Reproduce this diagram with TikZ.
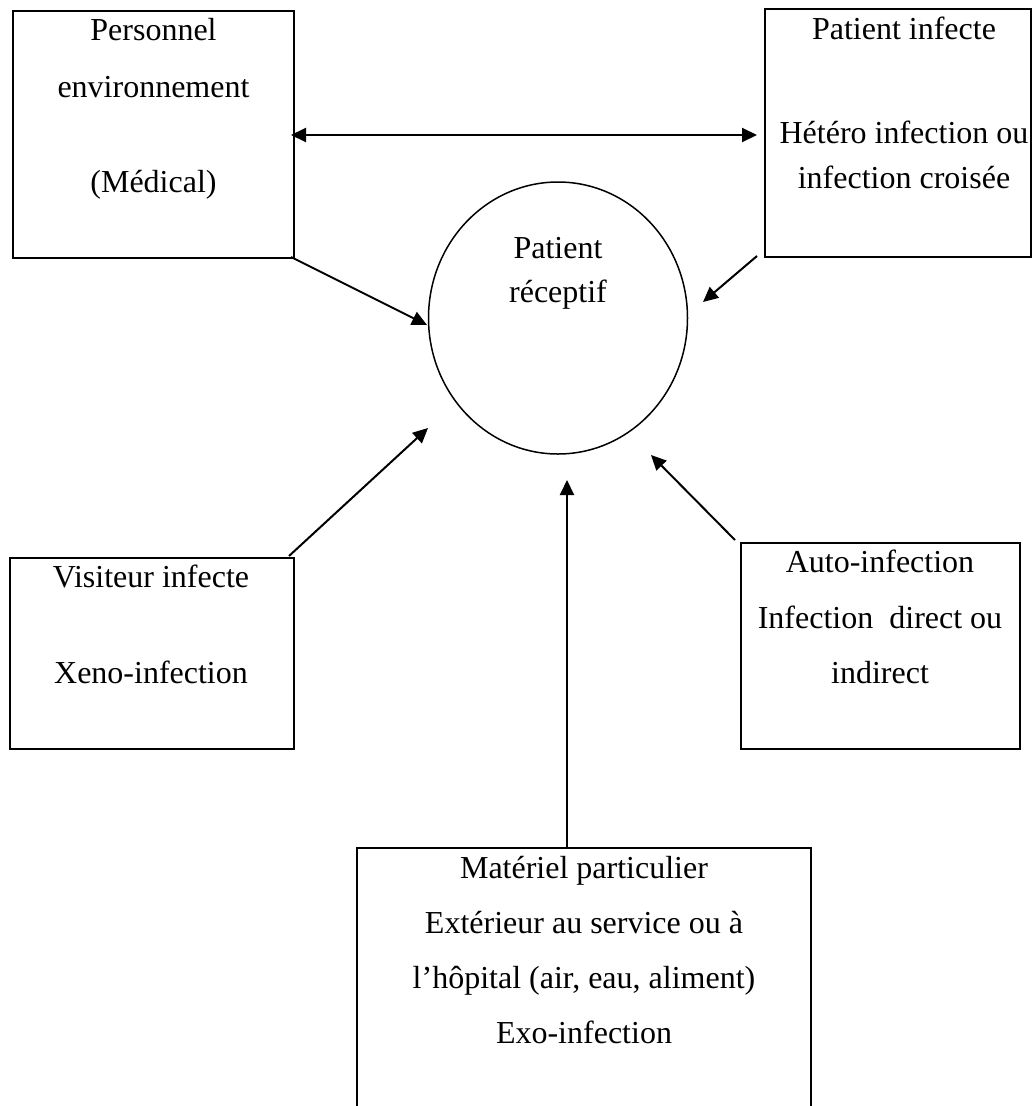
\documentclass[tikz,border=0pt]{standalone}
\usepackage{fontspec}
\setmainfont{Liberation Serif}
\usetikzlibrary{shapes.geometric,arrows.meta}
\begin{document}
\begin{tikzpicture}[x=1pt,y=-1pt,
  box/.style={draw,line width=2pt,rectangle,inner sep=0pt,outer sep=0pt},
  txt/.style={anchor=base,inner sep=0pt,font=\fontsize{32pt}{38pt}\selectfont},
  arr/.style={line width=2pt,-{Triangle[length=15pt,width=14pt]}},
  darr/.style={line width=2pt,{Triangle[length=15pt,width=14pt]}-{Triangle[length=15pt,width=14pt]}}]
\useasboundingbox (0,0) rectangle (1032,1106);
\fill[white] (0,0) rectangle (1032,1106);
\clip (0,0) rectangle (1032,1106);
% boxes
\node[box,minimum width=281pt,minimum height=247pt] (b1) at (153.5,134.5) {};
\node[box,minimum width=266pt,minimum height=248pt] (b2) at (898,133) {};
\node[box,minimum width=284pt,minimum height=191pt] (b3) at (152,653.5) {};
\node[box,minimum width=279pt,minimum height=206pt] (b4) at (880.5,646) {};
\node[box,minimum width=454pt,minimum height=282pt] (b5) at (584,989) {};
\node[draw,ellipse,line width=1.5pt,minimum width=259pt,minimum height=272pt,inner sep=0pt] (ell) at (558,318) {};
% texts
\node[txt] (t1a) at (153.5,40) {Personnel};
\node[txt] (t1b) at (153.5,97) {environnement};
\node[txt] (t1c) at (153.5,192) {(Médical)};
\node[txt] (t2a) at (904,39) {Patient infecte};
\node[txt] (t2b) at (904,143) {Hétéro infection ou};
\node[txt] (t2c) at (904,188) {infection croisée};
\node[txt] (tea) at (558,258) {Patient};
\node[txt] (teb) at (558,302) {réceptif};
\node[txt] (t3a) at (151,587) {Visiteur infecte};
\node[txt] (t3b) at (151,683) {Xeno-infection};
\node[txt] (t4a) at (880,572) {Auto-infection};
\node[txt] (t4b) at (880,628) {Infection\ \ direct ou};
\node[txt] (t4c) at (880,683) {indirect};
\node[txt] (t5a) at (584,878) {Matériel particulier};
\node[txt] (t5b) at (584,933) {Extérieur au service ou à};
\node[txt] (t5c) at (584,988) {l’hôpital (air, eau, aliment)};
\node[txt] (t5d) at (584,1043) {Exo-infection};
% connector end points
\coordinate (d1) at (291,135);
\coordinate (d2) at (757,135);
\coordinate (a1s) at (291,257);
\coordinate (a1e) at (427,325);
\coordinate (a2s) at (757,256);
\coordinate (a2e) at (703,302);
\coordinate (a3s) at (289,556);
\coordinate (a3e) at (428,428);
\coordinate (a4s) at (735,540);
\coordinate (a4e) at (651,455);
\coordinate (a5s) at (567,848);
\coordinate (a5e) at (567,480);
% connectors
\draw[darr] (d1) -- (d2);
\draw[arr] (a1s) -- (a1e);
\draw[arr] (a2s) -- (a2e);
\draw[arr] (a3s) -- (a3e);
\draw[arr] (a4s) -- (a4e);
\draw[arr] (a5s) -- (a5e);
\end{tikzpicture}
\end{document}
